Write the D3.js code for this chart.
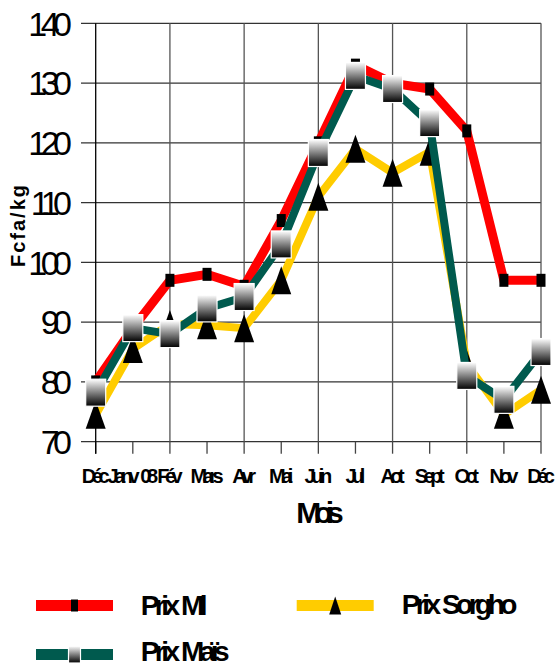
<!DOCTYPE html>
<html>
<head>
<meta charset="utf-8">
<script src="https://cdn.jsdelivr.net/npm/d3@7"></script>
<style>
  html, body { margin: 0; padding: 0; background: #fff; }
  svg { display: block; font-family: "Liberation Sans", Arial, sans-serif; }
</style>
</head>
<body>
<svg id="chart" width="556" height="666"></svg>
<script>
// ---- data ----
const months = ["Déc", "Janv 08", "Fév", "Mars", "Avr", "Mai", "Juin", "Jul", "Aot", "Sept", "Oct", "Nov", "Déc"];
const prixMil    = [80, 89, 97, 98, 96, 107, 120, 133, 130, 129, 122, 97, 97];
const prixSorgho = [74.5, 85.5, 89.7, 89.5, 89, 97, 111, 119, 115, 118.5, 83, 74.5, 78.7];
const prixMais   = [78.2, 89, 88, 92.3, 94.2, 103, 118.3, 131.2, 129, 123.3, 81, 77, 85];
const yTicks = [70, 80, 90, 100, 110, 120, 130, 140];
const seriesNames = ["Prix Ml", "Prix Sorgho", "Prix Maïs"];
const yTitle = "Fcfa/kg";
const xTitle = "Mois";

const svg = d3.select("#chart");
const defs = svg.append("defs");
const grad = defs.append("linearGradient").attr("id", "mgrad")
  .attr("x1", 0).attr("y1", 0).attr("x2", 0).attr("y2", 1);
grad.append("stop").attr("offset", "0%").attr("stop-color", "#ffffff");
grad.append("stop").attr("offset", "100%").attr("stop-color", "#000000");

const idx = months.map((d, i) => i);
const x = d3.scalePoint().domain(idx).range([95.7, 541]);
const y = d3.scaleLinear().domain([70, 140]).range([441.7, 23.3]);
const gridLeft = 81;

// horizontal grid lines
svg.append("g").selectAll("line").data(yTicks).join("line")
  .attr("x1", gridLeft).attr("x2", x(12))
  .attr("y1", d => y(d)).attr("y2", d => y(d))
  .attr("stroke", "#333").attr("stroke-width", 1.3);

// vertical grid lines (every other month)
svg.append("g").selectAll("line").data(idx.filter(i => i % 2 === 0 && i > 0)).join("line")
  .attr("x1", d => x(d)).attr("x2", d => x(d))
  .attr("y1", y(140)).attr("y2", y(70))
  .attr("stroke", "#555").attr("stroke-width", 1.3);

// x ticks
svg.append("g").selectAll("line").data(idx).join("line")
  .attr("x1", d => x(d)).attr("x2", d => x(d))
  .attr("y1", y(70)).attr("y2", y(70) + 12)
  .attr("stroke", "#444").attr("stroke-width", 1.3);

// y axis
svg.append("line").attr("x1", x(0)).attr("x2", x(0))
  .attr("y1", y(140)).attr("y2", y(70) + 12)
  .attr("stroke", "#000").attr("stroke-width", 1.3);

// y tick labels
const yls = -6.5;
svg.append("g").selectAll("text").data(yTicks).join("text")
  .attr("x", 72 + yls).attr("y", d => y(d))
  .attr("dy", "0.36em")
  .attr("text-anchor", "end")
  .style("font-size", "34px").style("letter-spacing", yls + "px")
  .attr("fill", "#000")
  .text(d => d);

// x tick labels
const xls = -4.5;
svg.append("g").selectAll("text").data(idx).join("text")
  .attr("x", d => x(d) + xls / 2).attr("y", 483)
  .attr("text-anchor", "middle")
  .style("font-size", "20px").style("font-weight", "bold").style("letter-spacing", xls + "px")
  .style("word-spacing", "4px")
  .attr("fill", "#000")
  .text(d => months[d]);

// axis titles
svg.append("text").attr("x", 320 - 3.5).attr("y", 523)
  .attr("text-anchor", "middle")
  .style("font-size", "30px").style("font-weight", "bold").style("letter-spacing", "-7px")
  .text(xTitle);

svg.append("text")
  .attr("transform", "translate(25,226) rotate(-90)")
  .attr("x", 1).attr("text-anchor", "middle")
  .style("font-size", "20px").style("font-weight", "bold").style("letter-spacing", "2px")
  .text(yTitle);

const line = d3.line().x((d, i) => x(i)).y(d => y(d));

// marker drawers
function milMarker(g, cx, cy, w, h) {
  g.append("rect").attr("x", cx - w / 2).attr("y", cy - h / 2)
    .attr("width", w).attr("height", h).attr("fill", "#000");
}
function triMarker(g, cx, cy, w, h) {
  g.append("path")
    .attr("d", `M${cx},${cy - h / 2}L${cx + w / 2},${cy + h / 2}L${cx - w / 2},${cy + h / 2}Z`)
    .attr("fill", "#000");
}
function maisMarker(g, cx, cy, w, h) {
  g.append("rect").attr("x", cx - w / 2).attr("y", cy - h / 2)
    .attr("width", w).attr("height", h)
    .attr("fill", "url(#mgrad)").attr("stroke", "#fff").attr("stroke-width", 1.2);
}

const series = [
  { vals: prixMil, color: "#ff0000", width: 9, marker: (g, cx, cy) => milMarker(g, cx, cy, 9, 13) },
  { vals: prixSorgho, color: "#ffcc00", width: 8, marker: (g, cx, cy) => triMarker(g, cx, cy, 20, 28) },
  { vals: prixMais, color: "#005a4e", width: 8, marker: (g, cx, cy) => maisMarker(g, cx, cy, 20, 27) }
];

series.forEach(s => {
  const g = svg.append("g");
  g.append("path").datum(s.vals).attr("d", line)
    .attr("fill", "none").attr("stroke", s.color).attr("stroke-width", s.width)
    .attr("stroke-linejoin", "miter");
  s.vals.forEach((v, i) => s.marker(g, x(i), y(v)));
});

// legend
const leg = svg.append("g");
const legItems = [
  { name: seriesNames[0], color: "#ff0000", lx: 36, ly: 605.5, tx: 140.7, ty: 615, m: (g, cx, cy) => milMarker(g, cx, cy, 7, 12) },
  { name: seriesNames[1], color: "#ffcc00", lx: 296.7, ly: 605.5, tx: 401.7, ty: 614, m: (g, cx, cy) => triMarker(g, cx, cy, 12, 18) },
  { name: seriesNames[2], color: "#005a4e", lx: 36, ly: 654.5, tx: 140.7, ty: 661, m: (g, cx, cy) => maisMarker(g, cx, cy, 12, 17) }
];
legItems.forEach(it => {
  leg.append("line").attr("x1", it.lx).attr("x2", it.lx + 77)
    .attr("y1", it.ly).attr("y2", it.ly)
    .attr("stroke", it.color).attr("stroke-width", 11);
  it.m(leg, it.lx + 38.5, it.ly);
  leg.append("text").attr("x", it.tx).attr("y", it.ty)
    .style("font-size", "28px").style("font-weight", "bold").style("letter-spacing", "-4.5px")
    .style("word-spacing", "2px")
    .text(it.name);
});
</script>
</body>
</html>
